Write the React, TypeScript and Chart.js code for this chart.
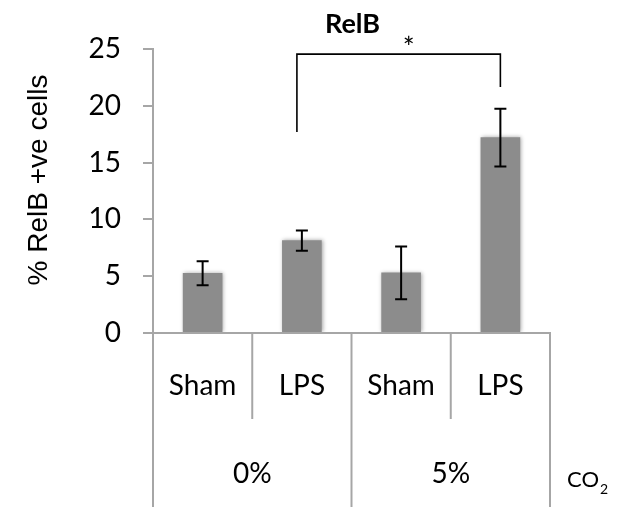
import React, { useEffect, useRef } from "react";
import { Chart, registerables } from "chart.js";

Chart.register(...registerables);

// ---- data ----
const categories = ["Sham", "LPS", "Sham", "LPS"];
const groups = ["0%", "5%"];
const groupSize = 2;
const values = [5.26, 8.13, 5.29, 17.2];
const errors = [1.05, 0.9, 2.33, 2.55];
const yTicks = [0, 5, 10, 15, 20, 25];
const chartTitle = "RelB";
const yTitle = "% RelB +ve cells";
const groupAxisLabel = "CO";
const groupAxisSub = "2";
// significance bracket (category index positions and data values)
const bracketX = [0.95, 3];
const bracketTop = 24.55;
const bracketEnds = [17.7, 21.65];
const bracketLabel = "*";

const AXIS_GRAY = "#a6a6a6";
const BAR_GRAY = "#8c8c8c";
const FONT = "Lato, 'Noto Sans', sans-serif";

const overlay = {
  id: "overlay",
  beforeDatasetsDraw(chart: any) {
    const ctx = chart.ctx;
    ctx.save();
    ctx.shadowColor = "rgba(0,0,0,0.35)";
    ctx.shadowBlur = 4;
    ctx.shadowOffsetX = 1;
    ctx.shadowOffsetY = 0;
  },
  afterDatasetsDraw(chart: any) {
    chart.ctx.restore();
  },
  afterDraw(chart: any) {
    const ctx = chart.ctx;
    const xs = chart.scales.x;
    const ys = chart.scales.y;
    const area = chart.chartArea;
    const y0 = ys.getPixelForValue(0);
    const H = chart.height;

    ctx.save();
    // category axis line
    ctx.strokeStyle = AXIS_GRAY;
    ctx.lineWidth = 2;
    ctx.beginPath();
    ctx.moveTo(area.left - 10, y0);
    ctx.lineTo(area.right + 1, y0);
    ctx.stroke();

    // separators
    const level1Bottom = y0 + 86;
    for (let i = 0; i <= categories.length; i++) {
      const x = i === 0 ? area.left : i === categories.length ? area.right : xs.getPixelForValue(i - 0.5);
      const isGroup = i % groupSize === 0;
      ctx.beginPath();
      ctx.moveTo(x, y0);
      ctx.lineTo(x, isGroup ? H : level1Bottom);
      ctx.stroke();
    }

    // error bars
    ctx.strokeStyle = "#000";
    ctx.lineWidth = 2;
    values.forEach((v, i) => {
      const x = xs.getPixelForValue(i);
      const yt = ys.getPixelForValue(v + errors[i]);
      const yb = ys.getPixelForValue(v - errors[i]);
      ctx.beginPath();
      ctx.moveTo(x, yt);
      ctx.lineTo(x, yb);
      ctx.moveTo(x - 6, yt);
      ctx.lineTo(x + 6, yt);
      ctx.moveTo(x - 6, yb);
      ctx.lineTo(x + 6, yb);
      ctx.stroke();
    });

    // bracket
    const bx1 = xs.getPixelForValue(bracketX[0]);
    const bx2 = xs.getPixelForValue(bracketX[1]);
    const by = ys.getPixelForValue(bracketTop);
    ctx.lineWidth = 1.6;
    ctx.beginPath();
    ctx.moveTo(bx1, ys.getPixelForValue(bracketEnds[0]));
    ctx.lineTo(bx1, by);
    ctx.lineTo(bx2, by);
    ctx.lineTo(bx2, ys.getPixelForValue(bracketEnds[1]));
    ctx.stroke();
    ctx.fillStyle = "#000";
    ctx.font = `28px ${FONT}`;
    ctx.textAlign = "center";
    ctx.textBaseline = "alphabetic";
    ctx.fillText(bracketLabel, (bx1 + bx2) / 2 + 10, by + 4);

    // title
    ctx.font = `bold 27px ${FONT}`;
    ctx.textBaseline = "alphabetic";
    ctx.fillText(chartTitle, (area.left + area.right) / 2 + 1, 33);

    // y title
    ctx.save();
    ctx.translate(47, 180);
    ctx.rotate(-Math.PI / 2);
    ctx.font = `28px 'Liberation Sans', Arial, sans-serif`;
    ctx.textBaseline = "alphabetic";
    ctx.fillText(yTitle, 0, 0);
    ctx.restore();

    // category labels
    ctx.font = `28px ${FONT}`;
    ctx.textBaseline = "middle";
    categories.forEach((c, i) => {
      ctx.fillText(c, xs.getPixelForValue(i), y0 + 53);
    });
    // group labels
    groups.forEach((g, gi) => {
      const xc = xs.getPixelForValue(gi * groupSize + (groupSize - 1) / 2);
      ctx.fillText(g, xc, y0 + 141);
    });
    // group axis label CO2
    ctx.textAlign = "left";
    ctx.font = `22px ${FONT}`;
    const cx = area.right + 17;
    ctx.fillText(groupAxisLabel, cx, y0 + 147);
    const w = ctx.measureText(groupAxisLabel).width;
    ctx.font = `14px ${FONT}`;
    ctx.fillText(groupAxisSub, cx + w + 1, y0 + 156);
    ctx.restore();
  },
};

export default function App() {
  const ref = useRef<HTMLCanvasElement | null>(null);
  useEffect(() => {
    document.body.style.margin = "0";
    const canvas = ref.current!;
    const chart = new Chart(canvas, {
      type: "bar",
      data: {
        labels: categories,
        datasets: [
          {
            data: values,
            backgroundColor: BAR_GRAY,
            borderWidth: 0,
            barThickness: 39,
          },
        ],
      },
      options: {
        responsive: false,
        animation: false,
        devicePixelRatio: 1,
        layout: { padding: { top: 49, right: 69, bottom: 174, left: 0 } },
        plugins: {
          legend: { display: false },
          tooltip: { enabled: false },
          title: { display: false },
        },
        scales: {
          x: { display: false },
          y: {
            min: 0,
            max: 25,
            afterBuildTicks: (s: any) => {
              s.ticks = yTicks.map((v) => ({ value: v }));
            },
            afterFit: (s: any) => {
              s.width = 153;
            },
            ticks: {
              color: "#000",
              font: { family: FONT, size: 28 },
              padding: 22,
            },
            grid: {
              display: true,
              drawOnChartArea: false,
              drawTicks: true,
              tickLength: 10,
              color: AXIS_GRAY,
              lineWidth: 2,
            },
            border: { display: true, color: AXIS_GRAY, width: 2 },
          },
        },
      },
      plugins: [overlay],
    });
    return () => chart.destroy();
  }, []);
  return <canvas ref={ref} width={619} height={507} style={{ display: "block" }} />;
}
